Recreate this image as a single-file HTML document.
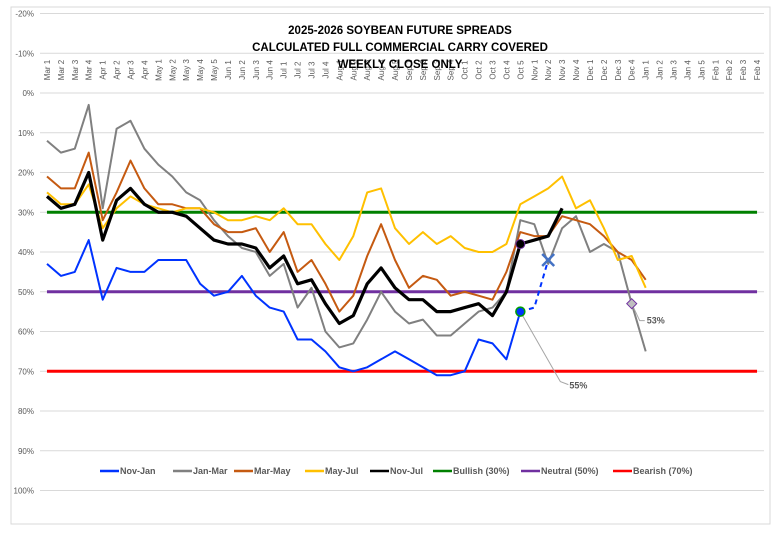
<!DOCTYPE html>
<html><head><meta charset="utf-8"><style>
html,body{margin:0;padding:0;background:#fff;}
svg text{font-family:"Liberation Sans",sans-serif;}
</style></head><body>
<svg id="chart" width="784" height="534" xmlns="http://www.w3.org/2000/svg">
<rect x="11" y="7" width="759" height="517" fill="#fff" stroke="#d9d9d9"/>
<g id="grid"></g><g id="xlabels"></g><g id="series"></g>
<g font-weight="bold" font-size="11.5" text-anchor="middle" fill="#000">
<text x="400" y="34">2025-2026 SOYBEAN FUTURE SPREADS</text>
<text x="400" y="51">CALCULATED FULL COMMERCIAL CARRY COVERED</text>
<text x="400" y="68">WEEKLY CLOSE ONLY</text>
</g>
<g id="legend"></g>
</svg>
<script>
const categories=["Mar 1","Mar 2","Mar 3","Mar 4","Apr 1","Apr 2","Apr 3","Apr 4","May 1","May 2","May 3","May 4","May 5","Jun 1","Jun 2","Jun 3","Jun 4","Jul 1","Jul 2","Jul 3","Jul 4","Aug 1","Aug 2","Aug 3","Aug 4","Aug 5","Sep 1","Sep 2","Sep 3","Sep 4","Oct 1","Oct 2","Oct 3","Oct 4","Oct 5","Nov 1","Nov 2","Nov 3","Nov 4","Dec 1","Dec 2","Dec 3","Dec 4","Jan 1","Jan 2","Jan 3","Jan 4","Jan 5","Feb 1","Feb 2","Feb 3","Feb 4"];
const yTicks=[-20,-10,0,10,20,30,40,50,60,70,80,90,100];
const novJan=[43,46,45,37,52,44,45,45,42,42,42,48,51,50,46,51,54,55,62,62,65,69,70,69,67,65,67,69,71,71,70,62,63,67,55];
const novJanProj=[null,null,null,null,null,null,null,null,null,null,null,null,null,null,null,null,null,null,null,null,null,null,null,null,null,null,null,null,null,null,null,null,null,null,55,54,42];
const janMar=[12,15,14,3,29,9,7,14,18,21,25,27,32,36,39,40,46,43,54,49,60,64,63,57,50,55,58,57,61,61,58,55,54,50,32,33,43,34,31,40,38,40,53,65];
const marMay=[21,24,24,15,32,25,17,24,28,28,29,29,33,35,35,34,40,35,45,42,48,55,51,41,33,42,49,46,47,51,50,51,52,45,35,36,36,31,32,33,36,40,42,47];
const mayJul=[25,28,28,23,34,29,26,28,29,30,29,29,30,32,32,31,32,29,33,33,38,42,36,25,24,34,38,35,38,36,39,40,40,38,28,26,24,21,29,27,34,42,41,49];
const novJul=[26,29,28,20,37,27,24,28,30,30,31,34,37,38,38,39,44,41,48,47,53,58,56,48,44,49,52,52,55,55,54,53,56,50,38,37,36,29];
const thresholds=[30,50,70];
const X0=40,X1=764,Y0=93,PER10=39.75;
const xs=i=>X0+(i+0.5)*(X1-X0)/categories.length;
const ys=v=>Y0+v/10*PER10;
const NS="http://www.w3.org/2000/svg";
function mk(tag,attrs,parent){const e=document.createElementNS(NS,tag);for(const k in attrs)e.setAttribute(k,attrs[k]);parent.appendChild(e);return e;}
const grid=document.getElementById('grid');
yTicks.forEach(t=>{
  const l=mk('line',{x1:X0,x2:X1,y1:ys(t),y2:ys(t),stroke:'#d9d9d9','stroke-width':1},grid);
  
  
  const tx=mk('text',{x:34,y:ys(t)+3,'text-anchor':'end','font-size':8,fill:'#595959'},grid);
  tx.textContent=t+'%';
  
  
});
const xl=document.getElementById('xlabels');
categories.forEach((c,i)=>{
  const x=xs(i)+3,y=70;
  const t=mk('text',{x:x,y:y,'text-anchor':'middle','font-size':8,fill:'#595959',transform:`rotate(-90 ${x} ${y})`},xl);
  t.textContent=c;
  
  
});
const ser=document.getElementById('series');
thresholds.forEach((v,k)=>{
  const l=mk('line',{x1:xs(0),x2:xs(categories.length-1),y1:ys(v),y2:ys(v),stroke:['#008000','#7030a0','#ff0000'][k],'stroke-width':3},ser);
  
  
});
function path(arr){let d='';arr.forEach((v,i)=>{if(v==null)return;d+=(d?'L':'M')+xs(i).toFixed(1)+' '+ys(v).toFixed(1);});return d;}
const defs=[[novJan,'#0033ff',2,'nov-jan-line'],[janMar,'#808080',2,'jan-mar-line'],[marMay,'#c55a11',2,'mar-may-line'],[mayJul,'#ffc000',2,'may-jul-line'],[novJul,'#000',3.2,'nov-jul-line']];
defs.forEach(([a,c,w,n])=>{
  const p=mk('path',{d:path(a),fill:'none',stroke:c,'stroke-width':w,'stroke-linejoin':'round'},ser);
  
  
});
const pj=mk('path',{d:path(novJanProj),fill:'none',stroke:'#0033ff','stroke-width':2,'stroke-dasharray':'5 4'},ser);


const ix=36,xx=xs(ix),xy=ys(novJanProj[ix]);
const xm=mk('path',{d:`M${xx-6} ${xy-6}L${xx+6} ${xy+6}M${xx-6} ${xy+6}L${xx+6} ${xy-6}`,stroke:'#4472c4','stroke-width':2.5},ser);


const m1=mk('circle',{cx:xs(34),cy:ys(novJul[34]),r:4.5,fill:'#000',stroke:'#7030a0','stroke-width':1},ser);


const lead1=mk('polyline',{points:`${xs(34)},${ys(novJan[34])} ${xs(34)+40},${ys(novJan[34])+70} ${xs(34)+48},${ys(novJan[34])+73}`,fill:'none',stroke:'#a6a6a6','stroke-width':1},ser);


const m2=mk('circle',{cx:xs(34),cy:ys(novJan[34]),r:4.5,fill:'#0033ff',stroke:'#00a000','stroke-width':1.5},ser);


const l1=mk('text',{x:xs(34)+49,y:ys(novJan[34])+77,'font-size':9,'font-weight':'bold',fill:'#595959'},ser);
l1.textContent=novJan[34]+'%';


const dx=xs(42),dy=ys(janMar[42]);
const lead2=mk('polyline',{points:`${dx},${dy} ${dx+8},${dy+17} ${dx+13},${dy+17}`,fill:'none',stroke:'#a6a6a6','stroke-width':1},ser);


const dm=mk('path',{d:`M${dx} ${dy-5}L${dx+5} ${dy}L${dx} ${dy+5}L${dx-5} ${dy}Z`,fill:'#bfbfbf',stroke:'#7030a0','stroke-width':1},ser);


const l2=mk('text',{x:dx+15,y:dy+20,'font-size':9,'font-weight':'bold',fill:'#595959'},ser);
l2.textContent=janMar[42]+'%';


const leg=document.getElementById('legend');
const items=[['Nov-Jan','#0033ff',100],['Jan-Mar','#808080',173],['Mar-May','#c55a11',234],['May-Jul','#ffc000',305],['Nov-Jul','#000',370],['Bullish (30%)','#008000',433],['Neutral (50%)','#7030a0',521],['Bearish (70%)','#ff0000',613]];
items.forEach(([n,c,x])=>{
  const g=mk('g',{},leg);
  
  
  mk('line',{x1:x,x2:x+19,y1:471,y2:471,stroke:c,'stroke-width':2.5},g);
  const t=mk('text',{x:x+20,y:474,'font-size':9,'font-weight':'bold',fill:'#595959'},g);
  t.textContent=n;
});
</script>
</body></html>
